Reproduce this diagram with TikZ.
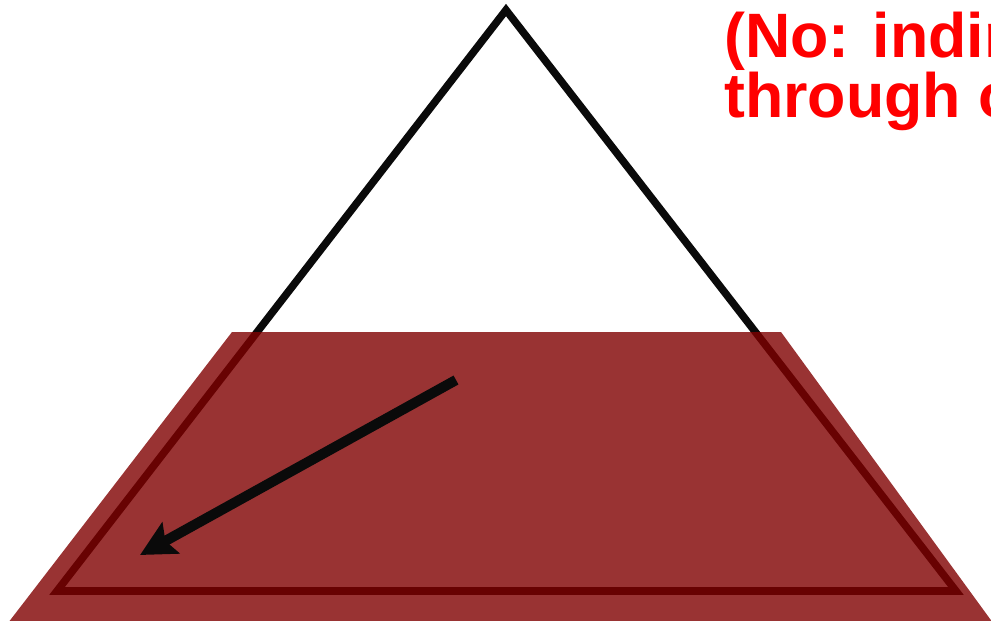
\documentclass[tikz,border=0pt]{standalone}
\usepackage{fontspec}
\setsansfont{Liberation Sans}
\usetikzlibrary{arrows.meta}

\begin{document}
\begin{tikzpicture}[
      x=0.02cm, y=-0.02cm,
      umriss/.style={draw=black!96, line width=4.3pt, miter limit=20},
      ebene/.style={fill={rgb,255:red,128;green,0;blue,0}, fill opacity=0.8},
      pfeil/.style={-{Stealth[length=0.7cm, width=0.7cm, inset=0.12cm]}, line width=5.8pt, black!96},
      hinweis/.style={anchor=base west, align=left, text=red, font=\sffamily\bfseries\fontsize{35.7}{34}\selectfont}
  ]
      \useasboundingbox (0,0) rectangle (991,620);
      \clip (0,0) rectangle (991,620);

      % Dreieck
      \coordinate (spitze) at (506,10);
      \coordinate (links) at (57,591);
      \coordinate (rechts) at (956,591);
      \draw[umriss] (spitze) -- (rechts) -- (links) -- cycle;

      % Ebene
      \fill[ebene] (232,332) -- (781,332) -- (993,623) -- (8,623) -- cycle;

      % Pfeil
      \coordinate (start) at (456,380);
      \coordinate (ziel) at (140,555);
      \draw[pfeil] (start) -- (ziel);

      % Hinweis
      \node[hinweis] (text) at (718,117) {(No: indir\\through o};
  \end{tikzpicture}
\end{document}
